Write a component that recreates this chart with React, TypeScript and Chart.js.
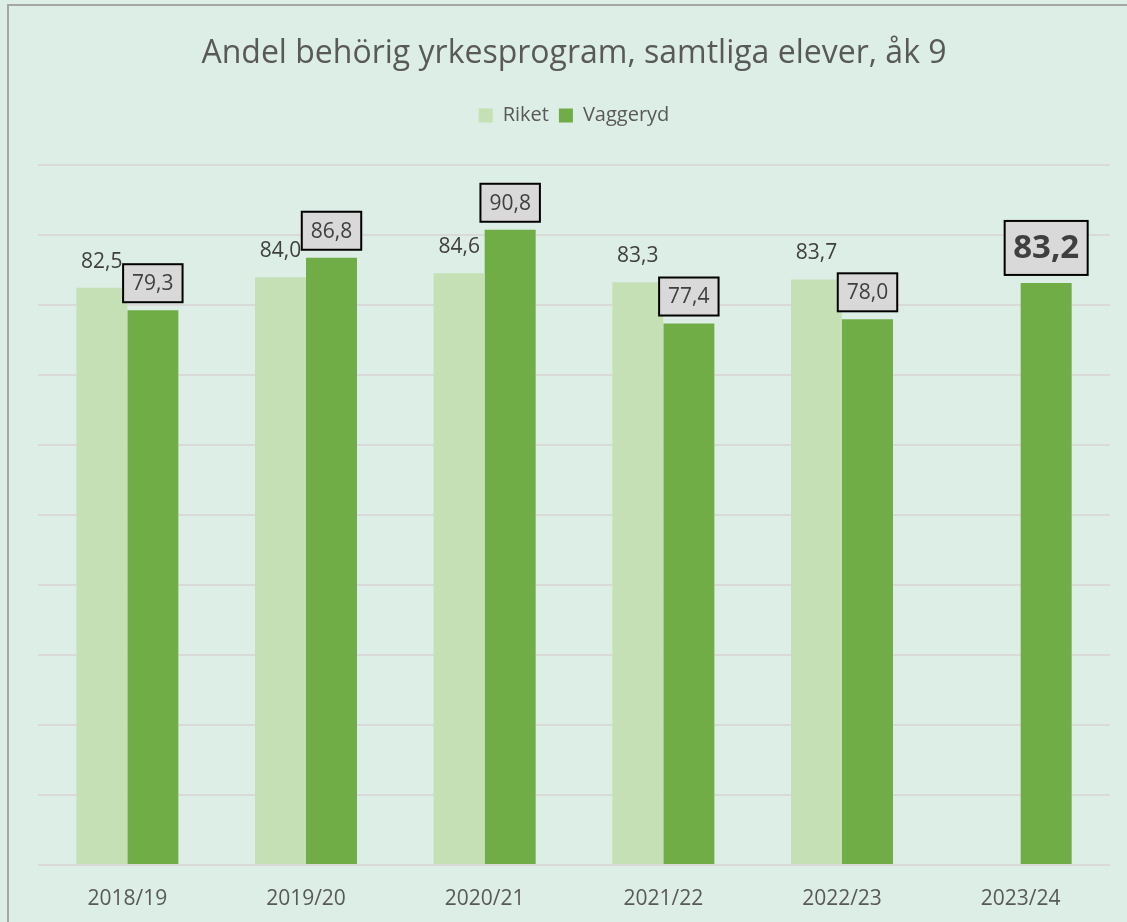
import React, { useEffect, useRef } from "react";
import { Chart, registerables } from "chart.js";

Chart.register(...registerables);

const categories = ["2018/19", "2019/20", "2020/21", "2021/22", "2022/23", "2023/24"];
const riket: (number | null)[] = [82.5, 84.0, 84.6, 83.3, 83.7, null];
const vaggeryd: (number | null)[] = [79.3, 86.8, 90.8, 77.4, 78.0, 83.2];
const yMin = 0;
const yMax = 100;
const yStep = 10;

const FONT = '"Open Sans", "Noto Sans", sans-serif';

const fmt = (v: number) => v.toFixed(1).replace(".", ",");

const valueLabels = {
  id: "valueLabels",
  afterDatasetsDraw(chart: any) {
    const ctx = chart.ctx as CanvasRenderingContext2D;
    chart.data.datasets.forEach((ds: any, di: number) => {
      const meta = chart.getDatasetMeta(di);
      meta.data.forEach((bar: any, i: number) => {
        const v = ds.data[i];
        if (v == null) return;
        const text = fmt(v);
        ctx.save();
        ctx.textAlign = "center";
        ctx.textBaseline = "middle";
        if (di === 0) {
          ctx.font = `21px ${FONT}`;
          ctx.fillStyle = "#404040";
          ctx.fillText(text, bar.x, bar.y - 26);
        } else {
          const big = i === ds.data.length - 1;
          ctx.font = big ? `bold 33px ${FONT}` : `21px ${FONT}`;
          const w = ctx.measureText(text).width + (big ? 17 : 18);
          const h = big ? 54 : 38;
          const bottom = bar.y - 8;
          ctx.fillStyle = "#D9D9D9";
          ctx.fillRect(bar.x - w / 2, bottom - h, w, h);
          ctx.strokeStyle = "#000000";
          ctx.lineWidth = 2;
          ctx.strokeRect(bar.x - w / 2, bottom - h, w, h);
          ctx.fillStyle = big ? "#3F3F3F" : "#404040";
          ctx.fillText(text, bar.x, bottom - h / 2 + 1);
        }
        ctx.restore();
      });
    });
  },
};

export default function App() {
  const ref = useRef<HTMLCanvasElement | null>(null);
  useEffect(() => {
    if (!ref.current) return;
    const chart = new Chart(ref.current, {
      type: "bar",
      data: {
        labels: categories,
        datasets: [
          { label: "Riket", data: riket, backgroundColor: "#C5E0B4", borderWidth: 0 },
          { label: "Vaggeryd", data: vaggeryd, backgroundColor: "#70AD47", borderWidth: 0 },
        ],
      },
      options: {
        responsive: false,
        animation: false,
        layout: { padding: { left: 38, right: 17, top: 0, bottom: 0 } },
        datasets: { bar: { categoryPercentage: 0.571, barPercentage: 1.0 } },
        plugins: {
          title: {
            display: true,
            text: "Andel behörig yrkesprogram, samtliga elever, åk 9",
            color: "#595959",
            font: { family: FONT, size: 32, weight: "normal", lineHeight: 1.2 },
            padding: { top: 35, bottom: 22 },
          },
          subtitle: {
            display: true,
            text: "",
            weight: 500,
            font: { family: FONT, size: 10, lineHeight: 1 },
            padding: { top: 0, bottom: 20 },
          } as any,
          legend: {
            display: true,
            labels: {
              color: "#595959",
              font: { family: FONT, size: 20 },
              boxWidth: 14,
              boxHeight: 14,
              padding: 10,
            },
          },
          tooltip: { enabled: false },
        },
        scales: {
          x: {
            grid: { display: false, drawTicks: false },
            border: { display: false },
            ticks: { color: "#595959", font: { family: FONT, size: 21 }, padding: 21 },
            afterFit: (s: any) => {
              s.height = 57;
            },
          },
          y: {
            min: yMin,
            max: yMax,
            ticks: { stepSize: yStep, display: false },
            grid: { color: "#D9D9D9", lineWidth: 2, drawTicks: false },
            border: { display: false },
            afterFit: (s: any) => {
              s.width = 0;
            },
          },
        },
      },
      plugins: [valueLabels],
    });
    return () => chart.destroy();
  }, []);

  return (
    <div style={{ position: "fixed", left: 0, top: 0, width: 1127, height: 922, background: "#DCEEE6", overflow: "hidden" }}>
      <div
        style={{
          position: "absolute",
          left: 7,
          top: 4,
          width: 1200,
          height: 1000,
          border: "2px solid #A6A6A6",
          boxSizing: "border-box",
        }}
      />
      <canvas ref={ref} width={1127} height={922} style={{ position: "absolute", left: 0, top: 0, width: 1127, height: 922 }} />
    </div>
  );
}
